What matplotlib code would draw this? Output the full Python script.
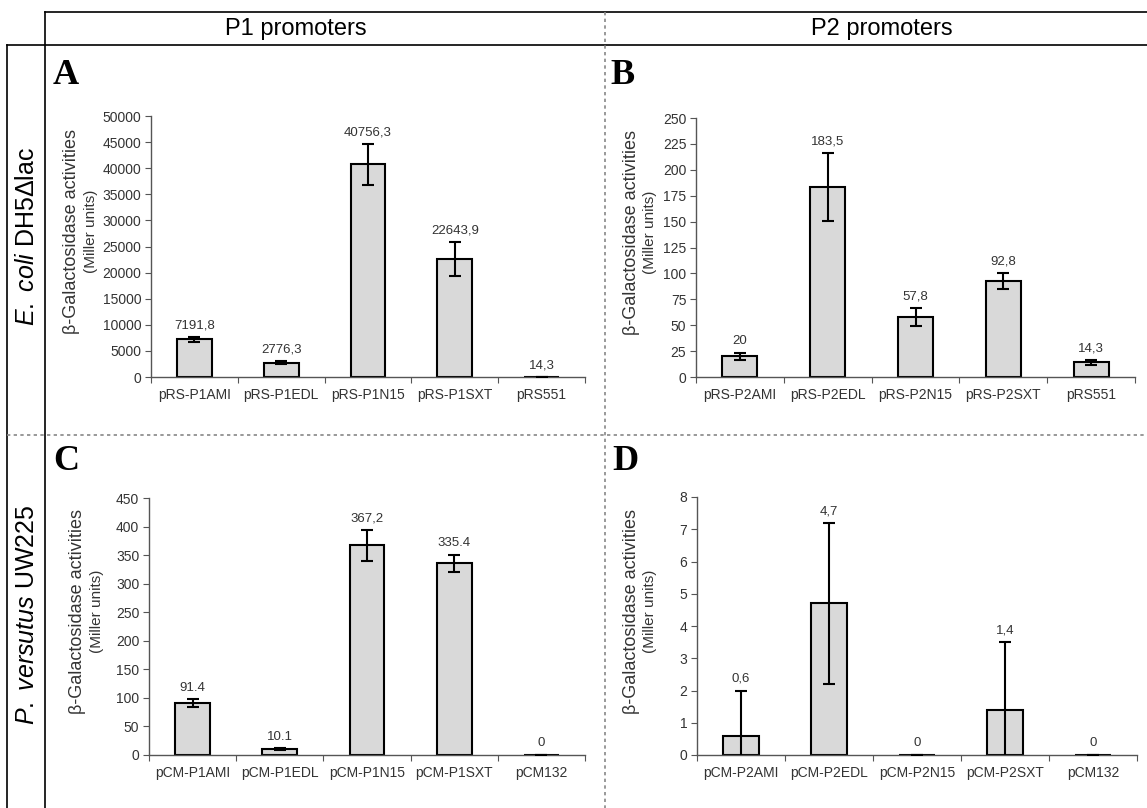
import matplotlib
matplotlib.use("Agg")
import matplotlib.pyplot as plt
from matplotlib.lines import Line2D

plt.rcParams['font.family'] = ['Liberation Sans', 'DejaVu Sans']
plt.rcParams['mathtext.fontset'] = 'custom'
plt.rcParams['mathtext.rm'] = 'Liberation Sans'
plt.rcParams['mathtext.it'] = 'Liberation Sans:italic'

# data
cats_a = ['pRS-P1AMI', 'pRS-P1EDL', 'pRS-P1N15', 'pRS-P1SXT', 'pRS551']
vals_a = [7191.8, 2776.3, 40756.3, 22643.9, 14.3]
errs_a = [500, 300, 3900, 3300, 3]
labs_a = ['7191,8', '2776,3', '40756,3', '22643,9', '14,3']

cats_b = ['pRS-P2AMI', 'pRS-P2EDL', 'pRS-P2N15', 'pRS-P2SXT', 'pRS551']
vals_b = [20, 183.5, 57.8, 92.8, 14.3]
errs_b = [3.2, 33, 8.5, 7.5, 2.5]
labs_b = ['20', '183,5', '57,8', '92,8', '14,3']

cats_c = ['pCM-P1AMI', 'pCM-P1EDL', 'pCM-P1N15', 'pCM-P1SXT', 'pCM132']
vals_c = [91.4, 10.1, 367.2, 335.4, 0]
errs_c = [6.5, 2.0, 27, 15.5, 0]
labs_c = ['91.4', '10.1', '367,2', '335.4', '0']

cats_d = ['pCM-P2AMI', 'pCM-P2EDL', 'pCM-P2N15', 'pCM-P2SXT', 'pCM132']
vals_d = [0.6, 4.7, 0, 1.4, 0]
errs_d = [1.4, 2.5, 0, 2.1, 0]
labs_d = ['0,6', '4,7', '0', '1,4', '0']

W, H = 1147, 808
fig = plt.figure(figsize=(W / 100, H / 100), dpi=100)


def fx(x):
    return x / W


def fy(y):
    return 1 - y / H


def panel(box, cats, vals, errs, labs, ymax, step, lab_x):
    left, top, right, bottom = box
    ax = fig.add_axes([fx(left), fy(bottom), fx(right) - fx(left), fy(top) - fy(bottom)])
    x = list(range(len(cats)))
    ax.bar(x, vals, width=0.4, color='#d9d9d9', edgecolor='black', linewidth=1.5, zorder=2)
    ax.errorbar(x, vals, yerr=errs, fmt='none', ecolor='black', elinewidth=1.5,
                capsize=4, capthick=1.5, zorder=3)
    for i, (v, e, s) in enumerate(zip(vals, errs, labs)):
        ax.annotate(s, (i, v + e), xytext=(0, 4), textcoords='offset points',
                    ha='center', va='bottom', fontsize=9.5, color='#333333')
    ax.set_xlim(-0.5, len(cats) - 0.5)
    ax.set_ylim(0, ymax)
    ticks = [k * step for k in range(int(round(ymax / step)) + 1)]
    ax.set_yticks(ticks)
    ax.set_yticklabels([str(t) for t in ticks], fontsize=10, color='#333333')
    ax.set_xticks([k - 0.5 for k in range(len(cats) + 1)])
    ax.set_xticklabels([])
    ax.set_xticks(x, minor=True)
    ax.set_xticklabels(cats, minor=True, fontsize=10, color='#333333')
    ax.tick_params(axis='x', which='minor', length=0, pad=8)
    ax.tick_params(axis='x', which='major', length=4, direction='out', color='#555555')
    ax.tick_params(axis='y', length=4, direction='out', color='#555555', pad=3)
    for side in ['top', 'right']:
        ax.spines[side].set_visible(False)
    for side in ['left', 'bottom']:
        ax.spines[side].set_color('#555555')
        ax.spines[side].set_linewidth(1)
    mid = (top + bottom) / 2 - 15
    fig.text(fx(lab_x), fy(mid), 'β-Galactosidase activities', rotation=90,
             ha='center', va='center', fontsize=13, color='#333333')
    fig.text(fx(lab_x + 19), fy(mid), '(Miller units)', rotation=90,
             ha='center', va='center', fontsize=11, color='#333333')
    return ax


panel((151, 116, 585, 377), cats_a, vals_a, errs_a, labs_a, 50000, 5000, 72)
panel((696, 118, 1135, 377), cats_b, vals_b, errs_b, labs_b, 250, 25, 631)
panel((149, 498, 585, 755), cats_c, vals_c, errs_c, labs_c, 450, 50, 78)
panel((697, 497, 1137, 755), cats_d, vals_d, errs_d, labs_d, 8, 1, 631)

# frame lines
solid = dict(color='black', linewidth=1.2)
dash = dict(color='#888888', linewidth=1.2, linestyle=(0, (2, 2)))
fig.add_artist(Line2D([fx(45), fx(W)], [fy(12), fy(12)], **solid))
fig.add_artist(Line2D([fx(7), fx(W)], [fy(45), fy(45)], **solid))
fig.add_artist(Line2D([fx(45), fx(45)], [fy(12), fy(H)], **solid))
fig.add_artist(Line2D([fx(7), fx(7)], [fy(45), fy(H)], **solid))
fig.add_artist(Line2D([fx(605), fx(605)], [fy(12), fy(H)], **dash))
fig.add_artist(Line2D([fx(7), fx(W)], [fy(435), fy(435)], **dash))

# headers
fig.text(fx(296), fy(29), 'P1 promoters', ha='center', va='center', fontsize=17)
fig.text(fx(882), fy(29), 'P2 promoters', ha='center', va='center', fontsize=17)
fig.text(fx(27), fy(236), r'$\it{E.\ coli}$' + ' DH5Δlac', rotation=90,
         ha='center', va='center', fontsize=18)
fig.text(fx(27), fy(615), r'$\it{P.\ versutus}$' + ' UW225', rotation=90,
         ha='center', va='center', fontsize=18)

# panel letters
for letter, x0, y0 in [('A', 53, 75), ('B', 610, 75), ('C', 53, 462), ('D', 612, 462)]:
    fig.text(fx(x0), fy(y0), letter, ha='left', va='center', fontsize=26,
             fontweight='bold', family='Liberation Serif')

fig.savefig('out.png', dpi=100)
